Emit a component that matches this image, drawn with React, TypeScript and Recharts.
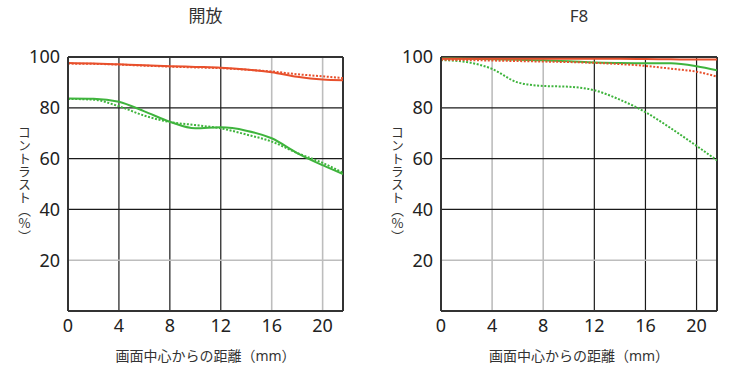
import React from 'react';
import { LineChart, Line, XAxis, YAxis, ReferenceLine } from 'recharts';

// image height (mm) along the x axis
const positions = [0, 2, 4, 6, 8, 10, 12, 14, 16, 18, 20, 21.6];

// 開放
const openRedSolid = [97.6, 97.4, 97.1, 96.8, 96.4, 96.1, 95.8, 95.1, 94.0, 92.2, 91.1, 90.8];
const openRedDot = [97.4, 97.3, 97.0, 96.6, 96.2, 95.9, 95.6, 95.0, 94.3, 93.2, 92.4, 91.7];
const openGreenSolid = [83.7, 83.6, 82.4, 78.6, 74.5, 71.9, 72.3, 71.0, 68.0, 62.2, 57.4, 53.9];
const openGreenDot = [83.5, 83.2, 80.6, 76.9, 74.4, 73.2, 71.9, 69.5, 66.7, 62.2, 58.3, 54.4];

// F8
const f8RedSolid = [99.3, 99.3, 99.3, 99.3, 99.3, 99.3, 99.3, 99.3, 99.2, 99.1, 99.0, 99.0];
const f8RedDot = [98.9, 98.8, 98.6, 98.4, 98.2, 98.0, 97.7, 97.2, 96.5, 95.4, 94.2, 92.3];
const f8GreenSolid = [99.4, 99.3, 99.1, 98.9, 98.7, 98.3, 97.8, 97.6, 97.5, 97.5, 96.4, 94.8];
const f8GreenDot = [98.8, 98.0, 95.3, 90.0, 88.6, 88.3, 86.9, 83.2, 78.3, 71.9, 65.0, 59.3];

const xTicks = [0, 4, 8, 12, 16, 20];
const yTicks = [20, 40, 60, 80, 100];

const RED = '#e8502c';
const GREEN = '#3fb43d';
const FRAME = '#333';
const DARK = '#1a1a1a';
const LIGHT = '#bdbdbd';
const FONT = '"Noto Sans", "Noto Sans CJK JP", sans-serif';
const CJK = '"Noto Sans CJK JP", sans-serif';

const buildRows = (a: number[], b: number[], c: number[], d: number[]) =>
  positions.map((x, i) => ({ x, rs: a[i], rd: b[i], gs: c[i], gd: d[i] }));

interface PanelProps {
  title: string;
  rows: { x: number; rs: number; rd: number; gs: number; gd: number }[];
  marginLeft: number;
  marginRight: number;
  lightX: number[];
}

const Panel: React.FC<PanelProps> = ({ title, rows, marginLeft, marginRight, lightX }) => {
  const plotLeft = marginLeft + 60;
  const plotRight = 370 - marginRight;
  const centerX = (plotLeft + plotRight) / 2;
  return (
    <div style={{ position: 'relative', width: 370, height: 376 }}>
      <LineChart
        width={370}
        height={376}
        data={rows}
        margin={{ top: 57, right: marginRight, bottom: 0, left: marginLeft }}
      >
        <XAxis
          dataKey="x"
          type="number"
          domain={[0, 21.6]}
          ticks={xTicks}
          allowDataOverflow
          height={65}
          tickLine={false}
          axisLine={{ stroke: FRAME, strokeWidth: 2 }}
          tick={{ fill: '#222', fontSize: 18, fontFamily: FONT }}
        />
        <YAxis
          type="number"
          domain={[0, 100]}
          ticks={yTicks}
          width={60}
          tickLine={false}
          axisLine={{ stroke: FRAME, strokeWidth: 2 }}
          tick={{ fill: '#222', fontSize: 18, fontFamily: FONT }}
        />
        {xTicks.slice(1).map((t) => (
          <ReferenceLine
            key={'x' + t}
            x={t}
            stroke={lightX.includes(t) ? LIGHT : DARK}
            strokeWidth={lightX.includes(t) ? 1.6 : 1.2}
          />
        ))}
        {[40, 60, 80].map((t) => (
          <ReferenceLine key={'y' + t} y={t} stroke={DARK} strokeWidth={1.2} />
        ))}
        <ReferenceLine y={20} stroke={LIGHT} strokeWidth={1.6} />
        <ReferenceLine y={100} stroke={FRAME} strokeWidth={2} />
        <ReferenceLine x={21.6} stroke={FRAME} strokeWidth={2} />
        <Line type="monotone" dataKey="gd" stroke={GREEN} strokeWidth={2} strokeDasharray="2 1.6" dot={false} isAnimationActive={false} />
        <Line type="monotone" dataKey="gs" stroke={GREEN} strokeWidth={2} dot={false} isAnimationActive={false} />
        <Line type="monotone" dataKey="rd" stroke={RED} strokeWidth={2} strokeDasharray="2 1.6" dot={false} isAnimationActive={false} />
        <Line type="monotone" dataKey="rs" stroke={RED} strokeWidth={2} dot={false} isAnimationActive={false} />
      </LineChart>
      <div
        style={{
          position: 'absolute', left: centerX - 60, width: 120, top: 6, textAlign: 'center',
          fontSize: 17, lineHeight: '20px', color: '#333', fontFamily: FONT,
        }}
      >
        {title}
      </div>
      <div
        style={{
          position: 'absolute', left: centerX - 100, width: 200, top: 347, textAlign: 'center',
          fontSize: 14, lineHeight: '18px', color: '#333', fontFamily: FONT,
        }}
      >
        画面中心からの距離（mm）
      </div>
      <div
        style={{
          position: 'absolute', left: plotLeft - 53, top: 126, writingMode: 'vertical-rl',
          textOrientation: 'upright', fontSize: 13, lineHeight: '18px', color: '#333', fontFamily: CJK,
        }}
      >
        コントラスト（%）
      </div>
    </div>
  );
};

export default function App() {
  return (
    <div style={{ position: 'absolute', left: 0, top: 0, width: 740, height: 376, display: 'flex', background: '#fff' }}>
      <Panel
        title="開放"
        rows={buildRows(openRedSolid, openRedDot, openGreenSolid, openGreenDot)}
        marginLeft={8}
        marginRight={27}
        lightX={[16, 20]}
      />
      <Panel
        title="F8"
        rows={buildRows(f8RedSolid, f8RedDot, f8GreenSolid, f8GreenDot)}
        marginLeft={11}
        marginRight={23}
        lightX={[4, 8]}
      />
    </div>
  );
}
